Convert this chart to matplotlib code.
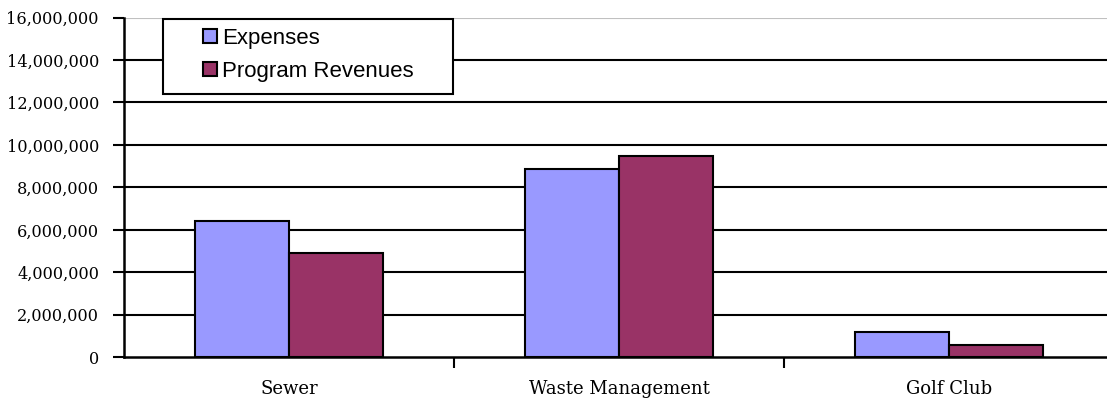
import matplotlib
matplotlib.use("Agg")
import matplotlib.pyplot as plt
from matplotlib.patches import Patch, Rectangle
from matplotlib.ticker import FuncFormatter, FixedLocator

categories = ["Sewer", "Waste Management", "Golf Club"]
expenses = [6400000, 8880000, 1200000]
program_revenues = [4930000, 9470000, 580000]
series_names = ["Expenses", "Program Revenues"]
y_ticks = list(range(0, 16000001, 2000000))

W, H = 1107, 403
fig = plt.figure(figsize=(W / 100, H / 100), dpi=100)
left, right, bottom, top = 124, 1114, 357.3, 17.5
ax = fig.add_axes([left / W, 1 - bottom / H, (right - left) / W, (bottom - top) / H])

x = list(range(len(categories)))
bw = 0.285
c_exp = "#9999FF"
c_rev = "#993366"
ax.bar([i - bw / 2 for i in x], expenses, width=bw, color=c_exp,
       edgecolor="black", linewidth=1.5, zorder=3)
ax.bar([i + bw / 2 for i in x], program_revenues, width=bw, color=c_rev,
       edgecolor="black", linewidth=1.5, zorder=3)

ax.set_xlim(-0.5, 2.5)
ax.set_ylim(0, 16000000)

ax.yaxis.set_major_locator(FixedLocator(y_ticks))
ax.yaxis.set_major_formatter(FuncFormatter(lambda v, p: f"{int(v):,}"))
for v in y_ticks[1:-1]:
    ax.axhline(v, color="black", linewidth=1.5, zorder=1)
ax.axhline(y_ticks[-1], color="#c0c0c0", linewidth=0.8, zorder=1)

ax.set_xticks([0.5, 1.5])
ax.set_xticklabels([])
ax.set_xticks(x, minor=True)
ax.set_xticklabels(categories, minor=True)
ax.tick_params(axis="x", which="major", direction="out", length=8, width=1.5)
ax.tick_params(axis="x", which="minor", length=0, pad=16)
ax.tick_params(axis="y", direction="out", length=8, width=1.5, pad=10)

for lab in ax.get_yticklabels():
    lab.set_fontfamily("DejaVu Serif")
    lab.set_fontsize(11.6)
for lab in ax.get_xticklabels(minor=True):
    lab.set_fontfamily("DejaVu Serif")
    lab.set_fontsize(13)

for s in ["top", "right"]:
    ax.spines[s].set_visible(False)
ax.spines["left"].set_linewidth(1.8)
ax.spines["bottom"].set_linewidth(1.8)
ax.spines["left"].set_zorder(4)
ax.spines["bottom"].set_zorder(4)

# legend box
frame = Rectangle((163 / W, 1 - 94 / H), 290 / W, 75 / H, transform=fig.transFigure,
                  facecolor="white", edgecolor="black", linewidth=1.5, zorder=5)
fig.patches.append(frame)

handles = [Patch(facecolor=c_exp, edgecolor="black", linewidth=1.5),
           Patch(facecolor=c_rev, edgecolor="black", linewidth=1.5)]
leg = fig.legend(handles, series_names, loc="center left",
                 bbox_to_anchor=(203 / W, 1 - 55 / H),
                 prop={"family": "Liberation Sans", "size": 16},
                 frameon=False, handlelength=0.62, handleheight=0.62,
                 handletextpad=0.25, labelspacing=0.55, borderpad=0, borderaxespad=0)
leg.set_zorder(6)

fig.savefig("out.png", dpi=100)
